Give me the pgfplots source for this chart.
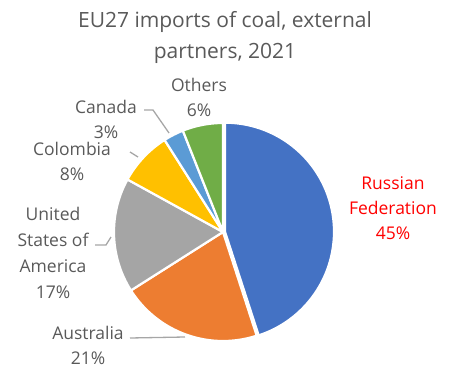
\documentclass[border=0pt]{standalone}
\usepackage{pgfplots}
\pgfplotsset{compat=1.18}
\usepackage{fontspec}
\setmainfont{Open Sans}
\definecolor{cRus}{HTML}{4472C4}
\definecolor{cAus}{HTML}{ED7D31}
\definecolor{cUSA}{HTML}{A5A5A5}
\definecolor{cCol}{HTML}{FFC000}
\definecolor{cCan}{HTML}{5B9BD5}
\definecolor{cOth}{HTML}{70AD47}
\definecolor{txt}{HTML}{595959}
\definecolor{lead}{HTML}{A6A6A6}
% shares (%): Russian Federation 45, Australia 21, USA 17, Colombia 8, Canada 3, Others 6
\begin{document}
\begin{tikzpicture}
\begin{axis}[scale only axis, width=453pt, height=368pt,
  xmin=0, xmax=453, ymin=0, ymax=368, axis lines=none, clip=false,
  every axis plot/.append style={draw=white, line width=2.2pt, samples=90, variable=\t, line join=round}]
% Russian Federation 45 (slightly exploded)
\addplot[fill=cRus, domain={90-3.6*45}:90] ({225+109*cos(t)},{136.3+109*sin(t)}) -- (axis cs:225,136.3) -- cycle;
% Australia 21
\addplot[fill=cAus, domain={90-3.6*(45+21)}:{90-3.6*45}] ({223+109*cos(t)},{136+109*sin(t)}) -- (axis cs:223,136) -- cycle;
% USA 17
\addplot[fill=cUSA, domain={90-3.6*(66+17)}:{90-3.6*66}] ({223+109*cos(t)},{136+109*sin(t)}) -- (axis cs:223,136) -- cycle;
% Colombia 8
\addplot[fill=cCol, domain={90-3.6*(83+8)}:{90-3.6*83}] ({223+109*cos(t)},{136+109*sin(t)}) -- (axis cs:223,136) -- cycle;
% Canada 3
\addplot[fill=cCan, domain={90-3.6*(91+3)}:{90-3.6*91}] ({223+109*cos(t)},{136+109*sin(t)}) -- (axis cs:223,136) -- cycle;
% Others 6
\addplot[fill=cOth, domain={90-3.6*(94+6)}:{90-3.6*94}] ({223+109*cos(t)},{136+109*sin(t)}) -- (axis cs:223,136) -- cycle;

% leader lines
\draw[lead, line width=1.3pt] (axis cs:144,258) -- (axis cs:153,258) -- (axis cs:169,235);
\draw[lead, line width=1.3pt] (axis cs:130,216) -- (axis cs:138,211);
\draw[lead, line width=1.3pt] (axis cs:95,123) -- (axis cs:106,123) -- (axis cs:111,131);
\draw[lead, line width=1.3pt] (axis cs:130,30) -- (axis cs:185,31);

% title
\node[txt, align=center, font=\fontsize{21}{31}\selectfont] at (axis cs:225,331) {EU27 imports of coal, external\\partners, 2021};
% labels
\tikzset{lbl/.style={align=center, inner sep=0.5pt, font=\fontsize{17.5}{25}\selectfont}}
\node[txt, lbl] at (axis cs:199,271) {Others\\6\%};
\node[txt, lbl] at (axis cs:106,249) {Canada\\3\%};
\node[txt, lbl] at (axis cs:72,207) {Colombia\\8\%};
\node[txt, lbl, font=\fontsize{17.5}{26}\selectfont] at (axis cs:53,115) {United\\States of\\America\\17\%};
\node[txt, lbl] at (axis cs:88,23) {Australia\\21\%};
\node[red, lbl] at (axis cs:393,160) {Russian\\Federation\\45\%};
\end{axis}
\pgfresetboundingbox
\path[use as bounding box] (0,0) rectangle (453pt,368pt);
\end{tikzpicture}
\end{document}
